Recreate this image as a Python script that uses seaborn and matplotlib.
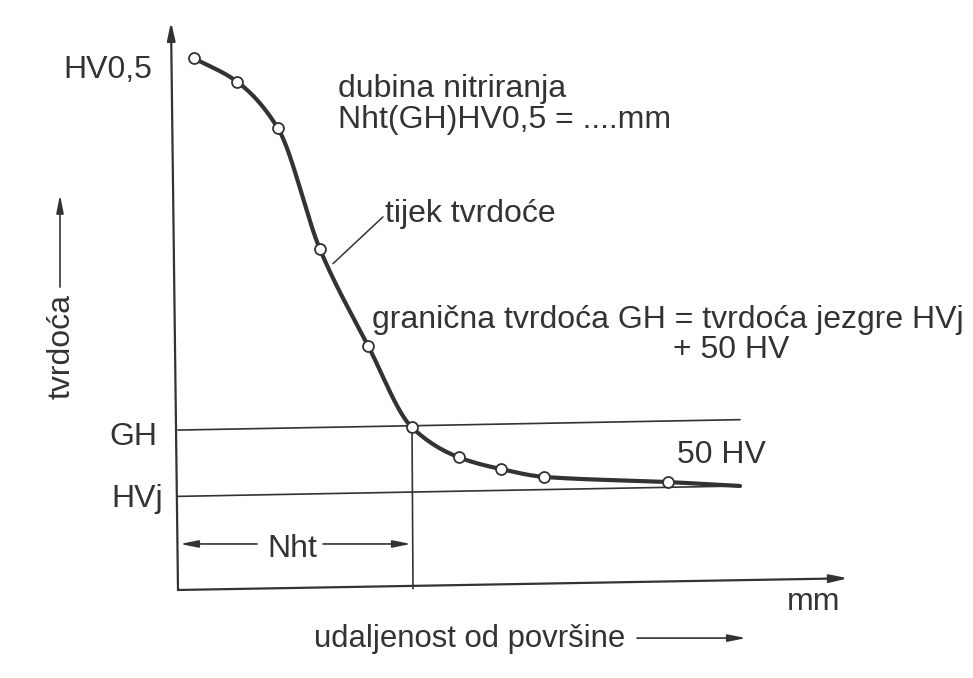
import numpy as np
import pandas as pd
import matplotlib
matplotlib.use("Agg")
import matplotlib.pyplot as plt
import seaborn as sns

# Hardness profile of a nitrided layer (schematic)
depth_mm = [0.16, 0.59, 1.00, 1.42, 1.90, 2.34, 2.81, 3.23, 3.66, 4.90]
hardness_hv = [684, 666, 630, 537, 463, 400, 377, 368, 362, 358]
curve_end = (5.62, 355)          # the profile continues past the last measurement
core_hardness = 350              # HVj
limit_hardness = core_hardness + 50   # GH
nht_depth = 2.34                 # depth where the profile crosses GH

axis_origin = (0.0, 275)
x_axis_tip = (6.70, 284)
y_axis_tip = (-0.07, 712)
guide_end = 5.62

ink = "#333333"

sns.set_theme(style="white")
plt.rcParams["font.family"] = ["Liberation Sans", "DejaVu Sans"]

fig = plt.figure(figsize=(9.73, 6.78), dpi=100)
ax = fig.add_axes([0, 0, 1, 1])
ax.set_xlim(-1.78, 7.95)
ax.set_ylim(207.3, 728.8)
ax.axis("off")


def pchip(x, y, xs):
    """Monotone cubic Hermite interpolation used to draw a smooth profile line."""
    x = np.asarray(x, float)
    y = np.asarray(y, float)
    h = np.diff(x)
    d = np.diff(y) / h
    m = np.zeros_like(y)
    for k in range(1, len(x) - 1):
        if d[k - 1] * d[k] > 0:
            w1 = 2 * h[k] + h[k - 1]
            w2 = h[k] + 2 * h[k - 1]
            m[k] = (w1 + w2) / (w1 / d[k - 1] + w2 / d[k])
    m[0] = d[0]
    m[-1] = d[-1]
    idx = np.clip(np.searchsorted(x, xs) - 1, 0, len(x) - 2)
    t = (xs - x[idx]) / h[idx]
    h00 = 2 * t**3 - 3 * t**2 + 1
    h10 = t**3 - 2 * t**2 + t
    h01 = -2 * t**3 + 3 * t**2
    h11 = t**3 - t**2
    return (h00 * y[idx] + h10 * h[idx] * m[idx]
            + h01 * y[idx + 1] + h11 * h[idx] * m[idx + 1])


xs_knots = depth_mm + [curve_end[0]]
ys_knots = hardness_hv + [curve_end[1]]
xs = np.linspace(xs_knots[0], xs_knots[-1], 800)
ys = pchip(xs_knots, ys_knots, xs)
curve = pd.DataFrame({"depth": xs, "hv": ys})
points = pd.DataFrame({"depth": depth_mm, "hv": hardness_hv})

# Coordinate axes with arrow heads
arrow_kw = dict(arrowstyle="-|>,head_length=0.9,head_width=0.2", color=ink, lw=1.6,
                shrinkA=0, shrinkB=0)
ax.annotate("", xy=y_axis_tip, xytext=axis_origin, arrowprops=arrow_kw)
ax.annotate("", xy=x_axis_tip, xytext=axis_origin, arrowprops=arrow_kw)

# GH and HVj reference lines, Nht drop line
ax.plot([0, guide_end], [limit_hardness - 2, limit_hardness + 6], color=ink, lw=1.2)
ax.plot([0, guide_end], [core_hardness - 3, core_hardness + 5], color=ink, lw=1.2)
ax.plot([nht_depth, nht_depth + 0.01], [limit_hardness, 276], color=ink, lw=1.2)

# Hardness profile and measurement points
sns.lineplot(data=curve, x="depth", y="hv", ax=ax, color=ink, lw=3.0, sort=False,
             legend=False)
sns.scatterplot(data=points, x="depth", y="hv", ax=ax, s=62, color="white",
                edgecolor=ink, linewidth=1.3, zorder=5, legend=False)

fs = 23
tkw = dict(color=ink, fontsize=fs, va="baseline")

# Leader line for the profile label
ax.plot([1.55, 2.05], [526, 562], color=ink, lw=1.1)

ax.text(-0.26, 669, "HV0,5", ha="right", **tkw)
ax.text(-0.21, 386.5, "GH", ha="right", **tkw)
ax.text(-0.15, 339, "HVj", ha="right", **tkw)

ax.text(1.60, 654, "dubina nitriranja", ha="left", **tkw)
ax.text(1.60, 630.5, "Nht(GH)HV0,5 = ....mm", ha="left", **tkw)
ax.text(2.07, 558, "tijek tvrdoće", ha="left", **tkw)
ax.text(1.94, 476.5, "granična tvrdoća GH = tvrdoća jezgre HVj", ha="left", **tkw)
ax.text(4.95, 453.5, "+ 50 HV", ha="left", **tkw)
ax.text(4.99, 372.7, "50 HV", ha="left", **tkw)
ax.text(6.09, 259.6, "mm", ha="left", **tkw)

# Nht dimension arrows
dim_kw = dict(arrowstyle="-|>,head_length=0.9,head_width=0.18", color=ink, lw=1.2,
              shrinkA=0, shrinkB=0)
ax.text(1.14, 300.4, "Nht", ha="center", **tkw)
ax.annotate("", xy=(0.02, 310.4), xytext=(0.79, 310.4), arrowprops=dim_kw)
ax.annotate("", xy=(nht_depth - 0.01, 310.4), xytext=(1.45, 310.4), arrowprops=dim_kw)

# Axis titles with direction arrows
ax.text(1.36, 231.2, "udaljenost od površine", ha="left", fontsize=22.4, color=ink,
        va="baseline")
ax.annotate("", xy=(5.68, 238), xytext=(4.59, 238), arrowprops=dim_kw)
ax.text(-1.17, 462, "tvrdoća", ha="center", va="center", rotation=90,
        color=ink, fontsize=fs)
ax.annotate("", xy=(-1.18, 579), xytext=(-1.18, 508), arrowprops=dim_kw)

fig.savefig("out.png", dpi=100, facecolor="white")
